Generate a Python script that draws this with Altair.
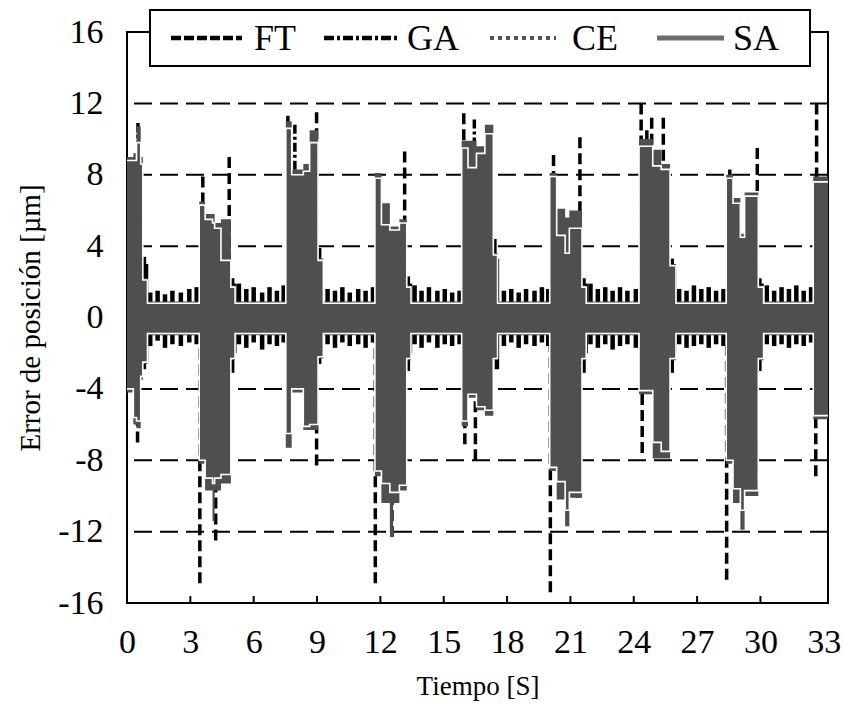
import altair as alt
import pandas as pd

SERIF = "Liberation Serif"

# Step envelopes of the SA error band (value held until the next breakpoint), in s and µm
sa_t = [0.00, 0.30, 0.45, 0.65, 0.75, 0.97,
        3.42, 3.70, 4.05, 4.15, 4.45, 4.92, 5.12,
        7.52, 7.80, 8.35, 8.65, 9.05, 9.30,
        11.74, 12.05, 12.45, 12.60, 12.90, 13.25, 13.45,
        15.85, 16.15, 16.55, 16.95, 17.35, 17.55,
        20.02, 20.35, 20.75, 20.95, 21.55, 21.75,
        24.25, 24.90, 25.30, 25.72, 26.00,
        28.38, 28.70, 29.05, 29.25, 29.90, 30.15,
        32.50, 33.20]
sa_hi = [9.0, 9.2, 10.7, 9.0, 2.2, 0.9,
         6.5, 5.8, 5.8, 5.3, 5.5, 1.8, 0.9,
         11.0, 8.3, 8.6, 10.5, 3.3, 0.9,
         8.1, 6.4, 5.1, 5.1, 5.5, 1.8, 0.9,
         9.9, 9.9, 9.6, 10.8, 3.6, 0.9,
         8.1, 6.1, 5.6, 6.0, 1.8, 0.9,
         10.0, 9.4, 8.6, 3.0, 0.9,
         8.0, 6.7, 4.7, 7.0, 1.8, 0.9,
         7.9, 7.9]
sa_lo = [-4.2, -6.0, -6.2, -3.5, -2.6, -1.0,
         -8.2, -9.7, -11.4, -9.7, -9.3, -2.4, -1.0,
         -7.3, -4.2, -6.3, -6.3, -2.3, -1.0,
         -8.9, -10.4, -12.3, -10.4, -9.7, -2.4, -1.0,
         -6.1, -4.5, -5.2, -5.5, -2.4, -1.0,
         -8.6, -10.2, -11.7, -10.1, -2.4, -1.0,
         -4.3, -7.9, -7.9, -2.4, -1.0,
         -8.2, -10.4, -11.9, -10.0, -2.4, -1.0,
         -5.7, -5.7]

# CE envelope on the same breakpoints
ce_hi = [8.8, 8.8, 9.8, 8.6, 2.1, 0.8,
         6.3, 5.5, 5.3, 5.0, 3.2, 1.7, 0.8,
         10.6, 8.0, 8.2, 9.8, 3.2, 0.8,
         7.8, 5.2, 4.9, 4.9, 5.3, 1.7, 0.8,
         9.5, 8.4, 9.2, 10.3, 3.5, 0.8,
         7.9, 4.6, 3.6, 5.0, 1.7, 0.8,
         9.6, 8.5, 8.3, 2.9, 0.8,
         7.8, 6.4, 4.5, 6.8, 1.7, 0.8,
         7.6, 7.6]
ce_lo = [-4.0, -5.6, -5.8, -3.3, -2.5, -0.9,
         -8.0, -9.0, -9.3, -9.0, -8.8, -2.3, -0.9,
         -6.5, -4.0, -6.1, -6.0, -2.2, -0.9,
         -8.6, -9.3, -9.8, -9.8, -9.4, -2.3, -0.9,
         -5.8, -4.3, -5.0, -5.2, -2.3, -0.9,
         -8.4, -9.2, -10.8, -9.8, -2.3, -0.9,
         -4.1, -7.0, -7.5, -2.3, -0.9,
         -8.0, -9.6, -10.8, -9.7, -2.3, -0.9,
         -5.5, -5.5]

# FT oscillation peaks between and after the bursts
ft_bar_t = [0.80, 0.90, 1.10, 1.45, 1.80, 2.15, 2.55, 2.95, 3.30,
            4.98, 5.08, 5.30, 5.65, 6.00, 6.40, 6.75, 7.10, 7.42,
            9.10, 9.22, 9.50, 9.85, 10.20, 10.55, 10.95, 11.30, 11.65,
            13.30, 13.40, 13.62, 13.95, 14.30, 14.70, 15.05, 15.40, 15.75,
            17.40, 17.52, 17.85, 18.20, 18.55, 18.90, 19.30, 19.65, 19.95,
            21.62, 21.72, 21.95, 22.30, 22.65, 23.00, 23.35, 23.70, 24.10,
            25.80, 25.92, 26.15, 26.50, 26.85, 27.20, 27.55, 27.90, 28.25,
            29.95, 30.05, 30.30, 30.65, 31.00, 31.35, 31.70, 32.05, 32.40]
ft_bar_hi = [3.4, 3.0, 1.4, 1.5, 1.3, 1.5, 1.4, 1.6, 1.7,
             2.2, 1.9, 1.9, 1.6, 1.7, 1.4, 1.7, 1.5, 1.8,
             3.9, 3.0, 1.6, 1.5, 1.7, 1.4, 1.6, 1.5, 1.7,
             2.3, 1.9, 1.8, 1.5, 1.7, 1.5, 1.6, 1.4, 1.5,
             4.4, 3.3, 1.5, 1.6, 1.4, 1.6, 1.5, 1.7, 1.6,
             2.2, 1.9, 1.9, 1.6, 1.7, 1.5, 1.7, 1.5, 1.6,
             3.3, 2.8, 1.6, 1.5, 1.8, 1.6, 1.7, 1.5, 1.6,
             2.2, 1.9, 1.8, 1.5, 1.7, 1.6, 1.8, 1.5, 1.7]
ft_bar_lo = [-2.9, -2.5, -1.6, -1.3, -1.7, -1.5, -1.6, -1.4, -1.5,
             -3.1, -2.0, -1.5, -1.7, -1.4, -1.8, -1.5, -1.6, -1.4,
             -2.6, -1.9, -1.5, -1.7, -1.4, -1.6, -1.5, -1.7, -1.4,
             -3.0, -2.0, -1.5, -1.7, -1.4, -1.7, -1.5, -1.6, -1.5,
             -2.0, -2.9, -1.6, -1.4, -1.7, -1.5, -1.6, -1.4, -1.6,
             -3.1, -2.0, -1.5, -1.7, -1.5, -1.8, -1.6, -1.5, -1.7,
             -3.1, -2.0, -1.5, -1.7, -1.6, -1.5, -1.7, -1.5, -1.6,
             -3.0, -2.0, -1.5, -1.6, -1.5, -1.7, -1.5, -1.6, -1.4]

# FT extreme excursions inside the bursts
ft_peak_t = [3.59, 4.84, 7.62, 8.98, 13.15, 15.95, 20.20, 21.45, 24.35, 24.85, 25.40, 28.55, 29.85, 32.66,
             0.50, 3.45, 4.20, 8.98, 11.76, 12.55, 16.00, 16.50, 20.05, 21.35, 24.40, 25.35, 28.40, 32.62]
ft_peak_v = [7.9, 9.0, 11.3, 11.5, 9.3, 11.45, 9.1, 10.1, 12.0, 11.2, 11.2, 8.3, 9.5, 12.0,
             -7.0, -14.9, -12.5, -8.3, -14.9, -12.3, -7.1, -8.0, -15.4, -10.1, -7.6, -7.3, -14.7, -8.9]

# GA extreme excursions
ga_peak_t = [0.52, 7.95, 16.45, 24.62]
ga_peak_v = [10.9, 10.8, 11.1, 10.5]

grid_levels = [-12, -8, -4, 4, 8, 12]
x_ticks = [0, 3, 6, 9, 12, 15, 18, 21, 24, 27, 30, 33]
y_ticks = [-16, -12, -8, -4, 0, 4, 8, 12, 16]

W, H = 701, 571

band = pd.DataFrame({"t": sa_t, "hi": sa_hi, "lo": sa_lo, "ce_hi": ce_hi, "ce_lo": ce_lo})
bars = pd.DataFrame({"t": ft_bar_t * 2, "v": ft_bar_hi + ft_bar_lo})
ft_peaks = pd.DataFrame({"t": ft_peak_t, "v": ft_peak_v})
ga_peaks = pd.DataFrame({"t": ga_peak_t, "v": ga_peak_v})
grid = pd.DataFrame({"v": grid_levels})
ticks = pd.DataFrame({"t": x_ticks[1:-1]})
one = pd.DataFrame({"k": [0]})

x_scale = alt.Scale(domain=[0, 33.2], nice=False, zero=False)
y_scale = alt.Scale(domain=[-16, 16], nice=False, zero=False)

# plain hyphen for negative labels
plain_label = "'' + datum.value"

x_axis = alt.Axis(values=x_ticks, domain=False, ticks=False, tickSize=0, grid=False,
                  labelFont=SERIF, labelFontSize=34, labelColor="black", labelPadding=22,
                  labelFlush=False, labelOverlap=False, labelExpr=plain_label,
                  titleFont=SERIF, titleFontSize=27, titleFontWeight="normal",
                  titleColor="black", titlePadding=14)
y_axis = alt.Axis(values=y_ticks, domain=False, ticks=False, tickSize=0, grid=False,
                  labelFont=SERIF, labelFontSize=34, labelColor="black", labelPadding=24,
                  labelFlush=False, labelOverlap=False, labelExpr=plain_label,
                  titleFont=SERIF, titleFontSize=29, titleFontWeight="normal",
                  titleColor="black", titlePadding=12)


def X(field="t"):
    return alt.X(f"{field}:Q", scale=x_scale, axis=x_axis, title="Tiempo [S]")


def Y(field="v"):
    return alt.Y(f"{field}:Q", scale=y_scale, axis=y_axis, title="Error de posición [µm]")


gridlines = alt.Chart(grid).mark_rule(color="black", strokeWidth=2, strokeDash=[18, 8]).encode(y=Y("v"))

ft_spikes = alt.Chart(ft_peaks).mark_rule(color="black", strokeWidth=3.5, strokeDash=[11, 5]).encode(
    x=X(), y=Y("v"), y2=alt.datum(0))

ga_spikes = alt.Chart(ga_peaks).mark_rule(color="black", strokeWidth=3.5, strokeDash=[9, 3, 3, 3]).encode(
    x=X(), y=Y("v"), y2=alt.datum(0))

ft_comb = alt.Chart(bars).mark_rule(color="black", strokeWidth=4.5).encode(
    x=X(), y=Y("v"), y2=alt.datum(0))

sa_area = alt.Chart(band).mark_area(interpolate="step-after", color="#4f4f4f").encode(
    x=X(), y=Y("hi"), y2="lo:Q")

ce_top = alt.Chart(band).mark_line(interpolate="step-after", color="white", strokeWidth=1.6).encode(
    x=X(), y=Y("ce_hi"))
ce_bottom = alt.Chart(band).mark_line(interpolate="step-after", color="white", strokeWidth=1.6).encode(
    x=X(), y=Y("ce_lo"))

tick_marks = alt.Chart(ticks).mark_rule(color="black", strokeWidth=2).encode(
    x=X(), y=alt.value(H), y2=alt.value(H - 7))

# Legend box across the top edge of the frame
legend_box = alt.Chart(one).mark_rect(fill="white", stroke="black", strokeWidth=2).encode(
    x=alt.value(23), x2=alt.value(683), y=alt.value(-22), y2=alt.value(34))

legend_items = [
    ("FT", 44, 115, dict(color="black", strokeWidth=4.5, strokeDash=[10, 3]), 127),
    ("GA", 197, 271, dict(color="black", strokeWidth=4.5, strokeDash=[10, 3, 3, 3]), 280),
    ("CE", 363, 429, dict(color="#555555", strokeWidth=4, strokeDash=[4, 4]), 445),
    ("SA", 530, 597, dict(color="#6e6e6e", strokeWidth=5), 606),
]
legend_layers = [legend_box]
for name, x0, x1, style, tx in legend_items:
    legend_layers.append(alt.Chart(one).mark_rule(**style).encode(
        x=alt.value(x0), x2=alt.value(x1), y=alt.value(6)))
    legend_layers.append(alt.Chart(one).mark_text(
        text=name, font=SERIF, fontSize=36, color="black", align="left", baseline="alphabetic").encode(
        x=alt.value(tx), y=alt.value(18)))

chart = alt.layer(
    gridlines, ft_spikes, ga_spikes, ft_comb, sa_area, ce_top, ce_bottom, tick_marks,
    *legend_layers
).properties(
    width=W, height=H,
    padding={"left": 127, "top": 32, "right": 17, "bottom": 106},
    autosize="none",
    background="white",
).configure_view(stroke="black", strokeWidth=2)

chart.save("out.html", embed_options={"renderer": "svg", "actions": False})
